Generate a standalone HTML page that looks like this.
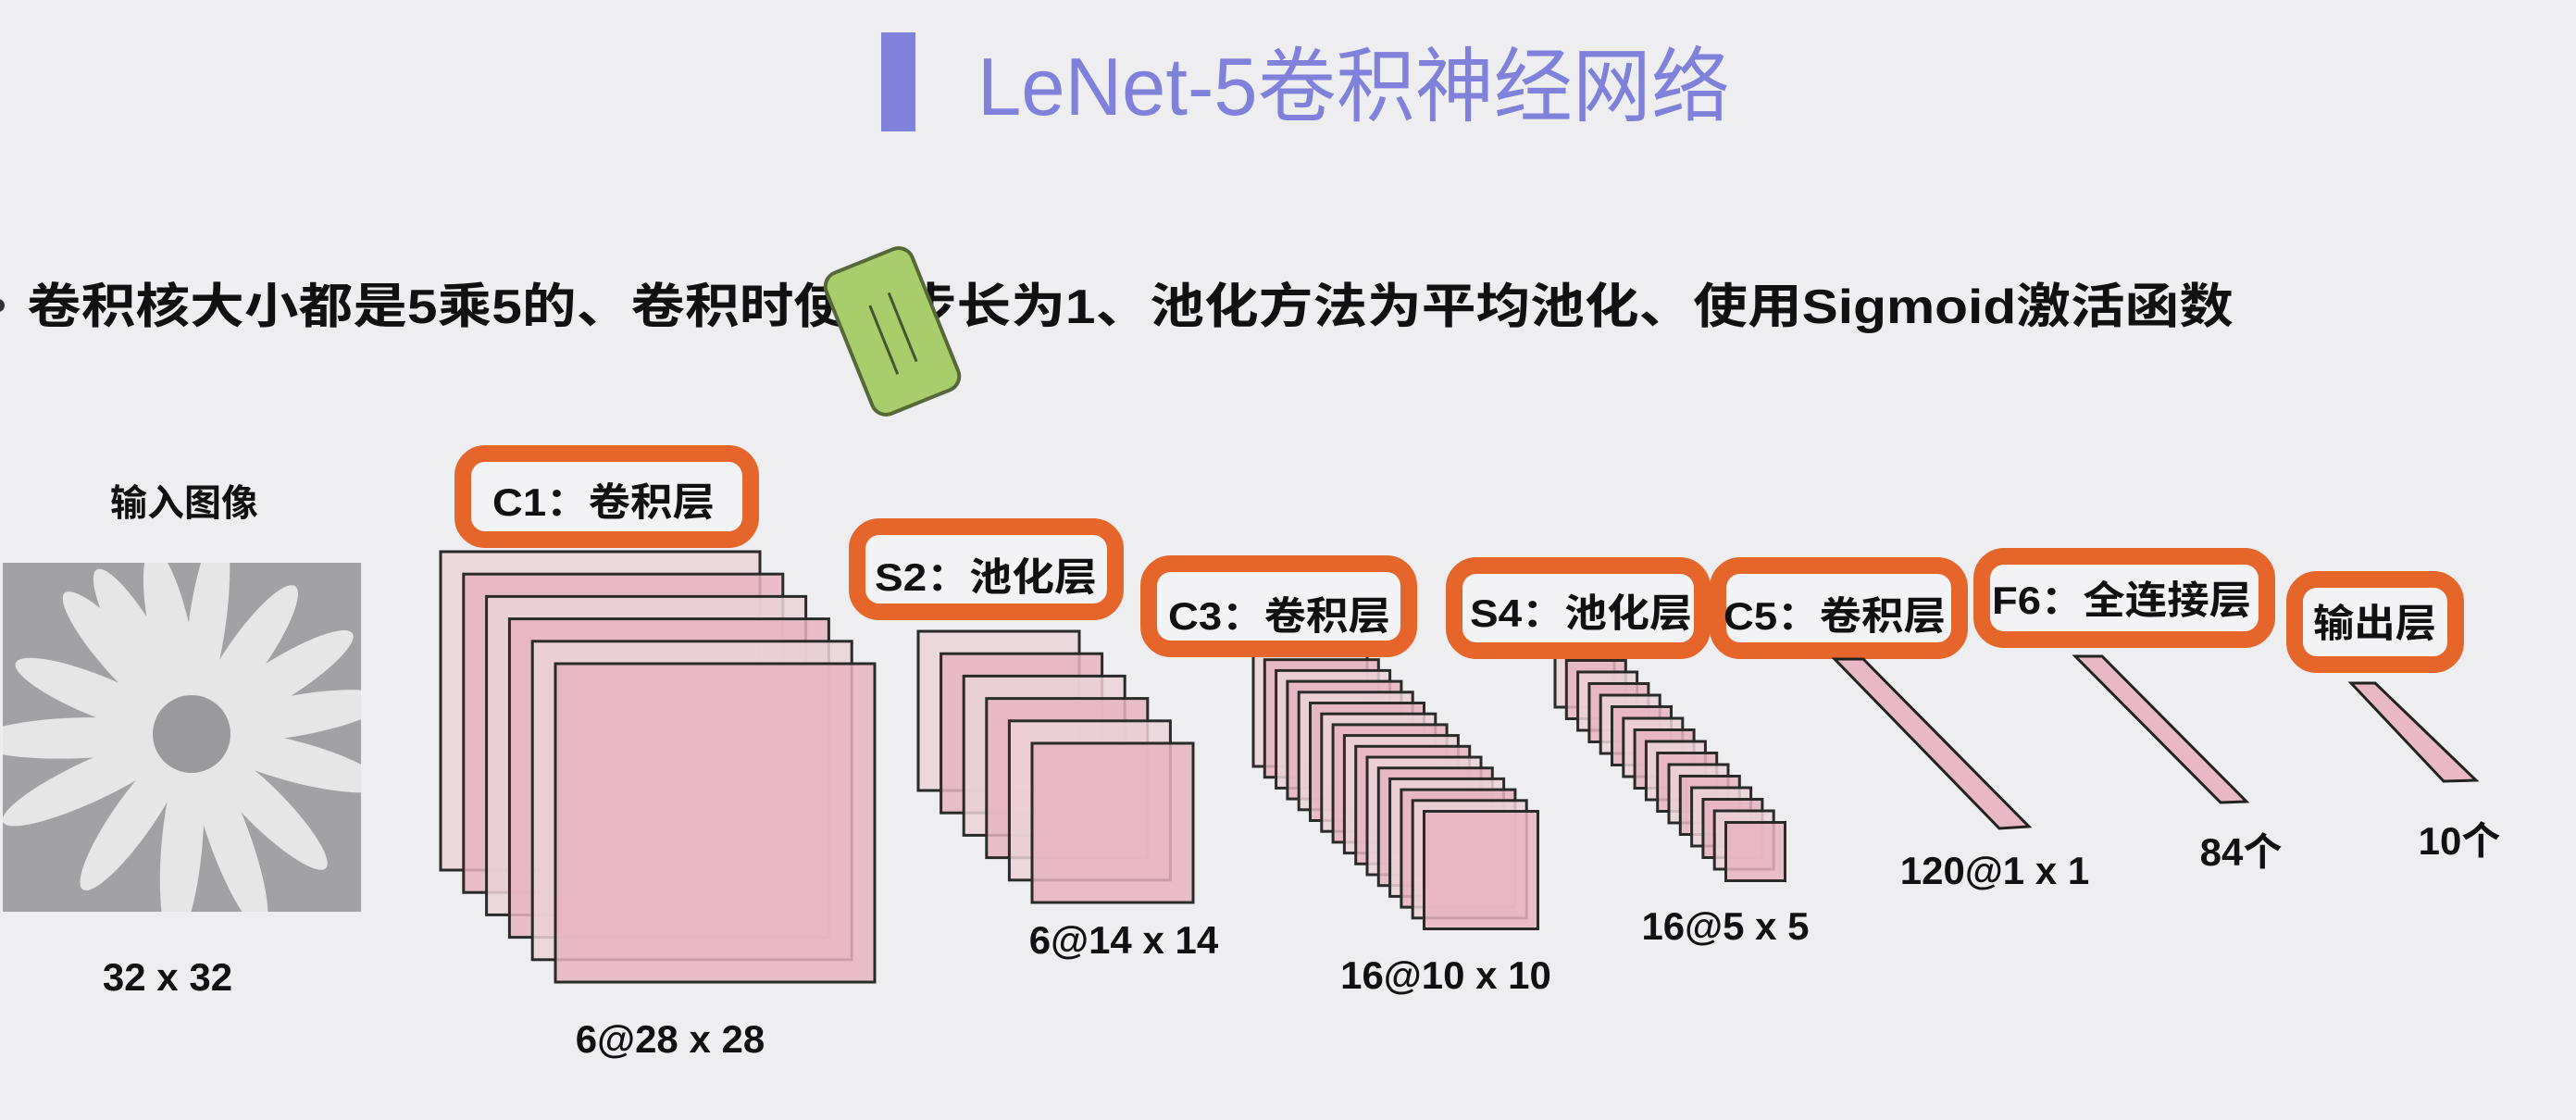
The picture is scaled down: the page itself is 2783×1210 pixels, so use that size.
<!DOCTYPE html>
<html><head><meta charset="utf-8">
<style>
html,body{margin:0;padding:0;background:#eeedf0;}
svg{display:block;}
text{font-family:"Liberation Sans","Noto Sans CJK SC",sans-serif;}
.b{font-weight:bold;fill:#111;}
</style></head>
<body>
<svg id="s" width="2783" height="1210" viewBox="0 0 2783 1210" xmlns="http://www.w3.org/2000/svg">
<defs><clipPath id="fc"><rect x="3" y="608" width="387" height="377"/></clipPath></defs>
<rect width="2783" height="1210" fill="#eeedf0"/>
<!-- title -->
<rect x="952" y="35" width="37" height="107" fill="#7f81da"/>
<text x="1056" y="124" font-size="88" fill="#7f81da" textLength="813" lengthAdjust="spacingAndGlyphs">LeNet-5卷积神经网络</text>
<!-- bullet -->
<circle cx="-2" cy="330" r="7" fill="#333"/>
<text class="b" x="29" y="349" font-size="52" textLength="2384" lengthAdjust="spacingAndGlyphs">卷积核大小都是5乘5的、卷积时使用步长为1、池化方法为平均池化、使用Sigmoid激活函数</text>
<!-- green shape -->
<g transform="translate(964,358) rotate(-22)">
<rect x="-50" y="-82" width="100" height="164" rx="16" fill="#a8cd6b" stroke="#55683a" stroke-width="4"/>
<line x1="-12" y1="-35" x2="-12" y2="45" stroke="#445530" stroke-width="3"/>
<line x1="12" y1="-40" x2="12" y2="40" stroke="#445530" stroke-width="3"/>
</g>
<!-- input -->
<text class="b" x="199" y="557" font-size="40" text-anchor="middle">输入图像</text>
<g clip-path="url(#fc)">
<rect x="3" y="608" width="387" height="377" fill="#a2a2a4"/>
<g fill="#e6e6e7" transform="translate(207,793)">
<ellipse cx="0" cy="-110" rx="22" ry="95" transform="rotate(-30)"/>
<ellipse cx="0" cy="-110" rx="22" ry="95" transform="rotate(-12)"/>
<ellipse cx="0" cy="-120" rx="20" ry="105" transform="rotate(8)"/>
<ellipse cx="0" cy="-105" rx="22" ry="90" transform="rotate(35)"/>
<ellipse cx="0" cy="-110" rx="22" ry="95" transform="rotate(58)"/>
<ellipse cx="0" cy="-115" rx="22" ry="100" transform="rotate(80)"/>
<ellipse cx="0" cy="-115" rx="22" ry="100" transform="rotate(105)"/>
<ellipse cx="0" cy="-110" rx="22" ry="95" transform="rotate(135)"/>
<ellipse cx="0" cy="-120" rx="22" ry="105" transform="rotate(160)"/>
<ellipse cx="0" cy="-120" rx="22" ry="105" transform="rotate(185)"/>
<ellipse cx="0" cy="-110" rx="22" ry="95" transform="rotate(215)"/>
<ellipse cx="0" cy="-120" rx="22" ry="105" transform="rotate(245)"/>
<ellipse cx="0" cy="-125" rx="22" ry="110" transform="rotate(268)"/>
<ellipse cx="0" cy="-110" rx="22" ry="95" transform="rotate(292)"/>
<ellipse cx="0" cy="-110" rx="22" ry="95" transform="rotate(318)"/>
<circle r="42" fill="#9a9a9c"/>
</g>
</g>
<text class="b" x="181" y="1070" font-size="42" text-anchor="middle">32 x 32</text>
<g id="planes"></g>
<!-- boxes -->
<g fill="#f3f2f4" stroke="#e6652a" stroke-width="18">
<rect x="500" y="490" width="311" height="93" rx="24"/>
<rect x="926" y="569" width="279" height="92" rx="24"/>
<rect x="1241" y="609" width="281" height="92" rx="24"/>
<rect x="1571" y="611" width="268" height="92" rx="24"/>
<rect x="1856" y="611" width="261" height="92" rx="24"/>
<rect x="2141" y="601" width="308" height="90" rx="24"/>
<rect x="2479" y="626" width="174" height="92" rx="24"/>
</g>
<g class="b" font-size="42">
<text class="b" x="532" y="557" textLength="240" lengthAdjust="spacingAndGlyphs">C1：卷积层</text>
<text class="b" x="945" y="638" textLength="240" lengthAdjust="spacingAndGlyphs">S2：池化层</text>
<text class="b" x="1262" y="680" textLength="240" lengthAdjust="spacingAndGlyphs">C3：卷积层</text>
<text class="b" x="1588" y="677" textLength="240" lengthAdjust="spacingAndGlyphs">S4：池化层</text>
<text class="b" x="1862" y="680" textLength="240" lengthAdjust="spacingAndGlyphs">C5：卷积层</text>
<text class="b" x="2152" y="663" textLength="280" lengthAdjust="spacingAndGlyphs">F6：全连接层</text>
<text class="b" x="2499" y="688" textLength="133" lengthAdjust="spacingAndGlyphs">输出层</text>
</g>
<!-- bars -->
<g fill="#e8b9c4" stroke="#222" stroke-width="3">
<polygon points="1982,712 2013,712 2192,893 2160,895"/>
<polygon points="2242,709 2271,709 2427,866 2399,867"/>
<polygon points="2540,738 2566,738 2675,843 2640,844"/>
</g>
<g font-size="42" text-anchor="middle">
<text class="b" x="724" y="1137">6@28 x 28</text>
<text class="b" x="1214" y="1030">6@14 x 14</text>
<text class="b" x="1562" y="1068">16@10 x 10</text>
<text class="b" x="1864" y="1015">16@5 x 5</text>
<text class="b" x="2155" y="955">120@1 x 1</text>
<text class="b" x="2421" y="935">84个</text>
<text class="b" x="2657" y="923">10个</text>
</g>
</svg>
<script>
(function(){
var g=document.getElementById('planes');var ns='http://www.w3.org/2000/svg';
function stack(x,y,w,h,n,dx,dy){for(var i=0;i<n;i++){var r=document.createElementNS(ns,'rect');
r.setAttribute('x',x+i*dx);r.setAttribute('y',y+i*dy);r.setAttribute('width',w);r.setAttribute('height',h);
r.setAttribute('fill',i%2?'#e6b4c1':'#ebd2d8');r.setAttribute('fill-opacity','0.85');
r.setAttribute('stroke','#2a2a2a');r.setAttribute('stroke-width','3');g.appendChild(r);}}
stack(476,596,345,344,6,24.8,24.2);
stack(992,682,174,172,6,24.6,24.2);
stack(1354,701,123,127,16,12.3,11.7);
stack(1680,701,64,63,16,12.3,12.5);
})();
</script>
</body></html>
